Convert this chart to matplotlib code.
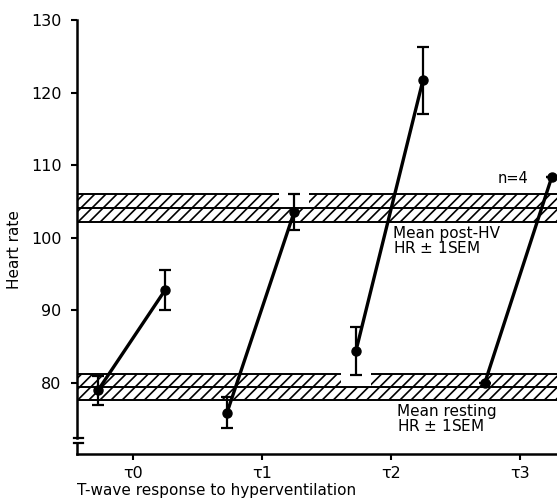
import numpy as np
import matplotlib
matplotlib.use("Agg")
import matplotlib.pyplot as plt
import matplotlib.transforms as mtransforms

plt.rcParams['font.family'] = ['DejaVu Sans']
plt.rcParams['hatch.linewidth'] = 1.2

# data
tau_labels = ['τ0', 'τ1', 'τ2', 'τ3']
rest_hr = [79.0, 75.9, 84.4, 80.0]
rest_sem = [2.0, 2.1, 3.3, 0.0]
post_hr = [92.8, 103.5, 121.7, 108.4]
post_sem = [2.8, 2.5, 4.6, 0.0]

band_post = (104.1, 1.9)   # mean post-HV HR, SEM
band_rest = (79.4, 1.8)    # mean resting HR, SEM

x = np.arange(len(tau_labels))
x_rest = x - 0.27
x_post = x + 0.25

fig = plt.figure(figsize=(5.57, 5.03), dpi=100)
ax = fig.add_axes([77/557, 49/503, 480/557, 434/503])
xmin, xmax = -0.434, 3.29
ax.set_xlim(xmin, xmax)
ax.set_ylim(70.2, 130)

def band(mean, sem, gap_x):
    lo, hi = mean - sem, mean + sem
    g0, g1 = gap_x - 0.115, gap_x + 0.115
    # lower half, continuous
    ax.fill_between([xmin, xmax], lo, mean, facecolor='white', edgecolor='black',
                    hatch='///', linewidth=0, zorder=1)
    # upper half, broken around an error bar
    for a, b in [(xmin, g0), (g1, xmax)]:
        ax.fill_between([a, b], mean, hi, facecolor='white', edgecolor='black',
                        hatch='///', linewidth=0, zorder=1)
        ax.hlines(hi, a, b, color='black', lw=1.4, zorder=2)
    ax.hlines([mean, lo], xmin, xmax, color='black', lw=1.4, zorder=2)

band(*band_post, x_post[1])
band(*band_rest, x_rest[2])

for i in range(len(x)):
    ax.plot([x_rest[i], x_post[i]], [rest_hr[i], post_hr[i]], color='black',
            lw=2.4, zorder=4, clip_on=False)
ax.errorbar(x_rest, rest_hr, yerr=rest_sem, fmt='o', color='black', ms=6.5,
            elinewidth=1.6, capsize=4.5, capthick=1.6, zorder=5, clip_on=False)
ax.errorbar(x_post, post_hr, yerr=post_sem, fmt='o', color='black', ms=6.5,
            elinewidth=1.6, capsize=4.5, capthick=1.6, zorder=5, clip_on=False)

ax.text(2.02, 101.6, 'Mean post-HV\nHR $\\pm$ 1SEM', fontsize=11, va='top', ha='left',
        linespacing=0.95, zorder=6)
ax.text(2.05, 77.1, 'Mean resting\nHR $\\pm$ 1SEM', fontsize=11, va='top', ha='left',
        linespacing=0.95, zorder=6)
ax.text(2.83, 108.2, 'n=4', fontsize=10.5, va='center', ha='left')

# axes styling
for s in ['top', 'right']:
    ax.spines[s].set_visible(False)
ax.spines['left'].set_linewidth(1.8)
ax.spines['bottom'].set_linewidth(1.8)
ax.spines['left'].set_bounds(72.35, 130)
trans = mtransforms.blended_transform_factory(ax.transAxes, ax.transData)
ax.plot([0, 0], [70.2, 71.76], color='black', lw=1.8, transform=trans, clip_on=False)
for yb in [72.35, 71.76]:
    ax.plot([-0.007, 0.013], [yb, yb], color='black', lw=1.6, transform=trans,
            clip_on=False)

ax.set_yticks([80, 90, 100, 110, 120, 130])
ax.set_xticks(x)
ax.set_xticklabels(tau_labels)
ax.tick_params(axis='both', labelsize=11.5, width=1.5, length=4, direction='out')
ax.tick_params(axis='y', pad=7)
ax.tick_params(axis='x', pad=5)

fig.text(15/557, 1 - 250/503, 'Heart rate', rotation=90, fontsize=11,
         ha='center', va='center')
fig.text(77/557, 1 - 490/503, 'T-wave response to hyperventilation', fontsize=11,
         ha='left', va='center')

fig.savefig('out.png', dpi=100)
